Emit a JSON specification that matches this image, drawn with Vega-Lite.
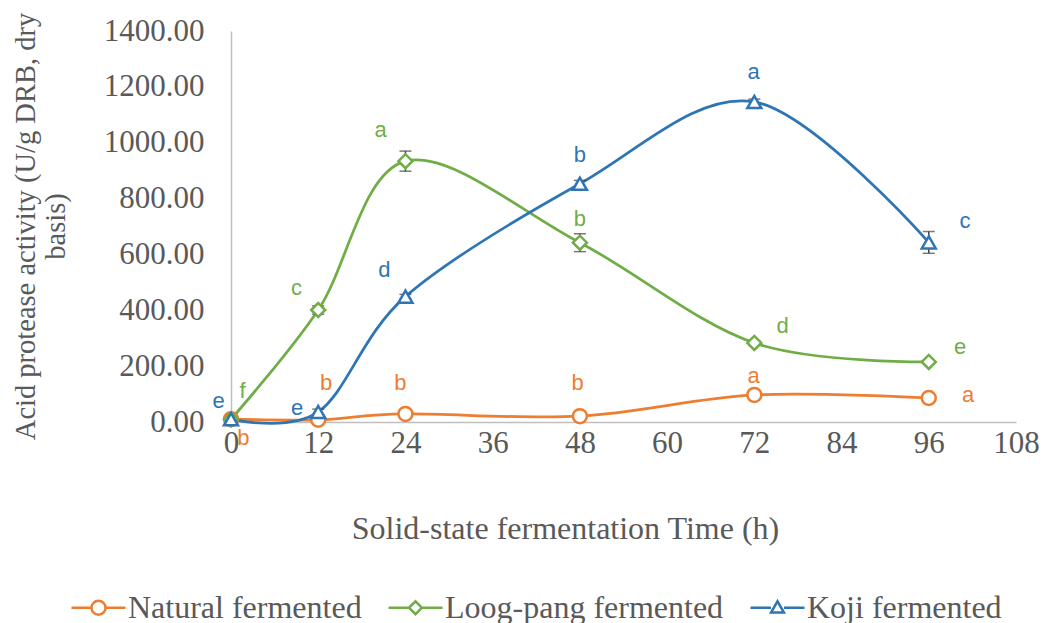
{
  "$schema": "https://vega.github.io/schema/vega-lite/v6.json",
  "width": 785,
  "height": 391,
  "autosize": {"type": "none"},
  "padding": {"left": 231, "top": 31, "right": 28, "bottom": 201},
  "background": "white",
  "config": {
    "view": {"stroke": null},
    "style": {"guide-title": {"lineBreak": "\n"}},
    "axis": {"grid": false, "ticks": false, "tickSize": 0, "domainColor": "#BFBFBF", "domainWidth": 1.5, "labelFlush": false,
      "labelFont": "Liberation Serif", "labelFontSize": 31, "labelColor": "#595959",
      "titleFont": "Liberation Serif", "titleFontSize": 32, "titleColor": "#595959", "titleFontWeight": "normal", "titleLimit": 600},
    "legend": {"labelFont": "Liberation Serif", "labelFontSize": 32, "labelColor": "#595959", "labelLimit": 500}
  },
  "datasets": {
    "pts": [
      {"series": "Natural fermented", "time": 0, "activity": 10, "err": 3},
      {"series": "Natural fermented", "time": 12, "activity": 8, "err": 3},
      {"series": "Natural fermented", "time": 24, "activity": 29, "err": 15},
      {"series": "Natural fermented", "time": 48, "activity": 21, "err": 3},
      {"series": "Natural fermented", "time": 72, "activity": 97, "err": 4},
      {"series": "Natural fermented", "time": 96, "activity": 86, "err": 4},
      {"series": "Loog-pang fermented", "time": 0, "activity": 10, "err": 3},
      {"series": "Loog-pang fermented", "time": 12, "activity": 401, "err": 15},
      {"series": "Loog-pang fermented", "time": 24, "activity": 934, "err": 36},
      {"series": "Loog-pang fermented", "time": 48, "activity": 642, "err": 32},
      {"series": "Loog-pang fermented", "time": 72, "activity": 283, "err": 8},
      {"series": "Loog-pang fermented", "time": 96, "activity": 215, "err": 4},
      {"series": "Koji fermented", "time": 0, "activity": 10, "err": 3},
      {"series": "Koji fermented", "time": 12, "activity": 36, "err": 10},
      {"series": "Koji fermented", "time": 24, "activity": 449, "err": 8},
      {"series": "Koji fermented", "time": 48, "activity": 853, "err": 12},
      {"series": "Koji fermented", "time": 72, "activity": 1146, "err": 10},
      {"series": "Koji fermented", "time": 96, "activity": 643, "err": 39}
    ],
    "letters": [
      {"series": "Natural fermented", "letter": "b", "lx": 1.7, "ly": -57},
      {"series": "Natural fermented", "letter": "b", "lx": 13.1, "ly": 140},
      {"series": "Natural fermented", "letter": "b", "lx": 23.3, "ly": 140},
      {"series": "Natural fermented", "letter": "b", "lx": 47.7, "ly": 140},
      {"series": "Natural fermented", "letter": "a", "lx": 71.9, "ly": 165},
      {"series": "Natural fermented", "letter": "a", "lx": 101.4, "ly": 97},
      {"series": "Loog-pang fermented", "letter": "f", "lx": 1.6, "ly": 110},
      {"series": "Loog-pang fermented", "letter": "c", "lx": 9.0, "ly": 480},
      {"series": "Loog-pang fermented", "letter": "a", "lx": 20.6, "ly": 1045},
      {"series": "Loog-pang fermented", "letter": "b", "lx": 48.0, "ly": 727},
      {"series": "Loog-pang fermented", "letter": "d", "lx": 75.9, "ly": 344},
      {"series": "Loog-pang fermented", "letter": "e", "lx": 100.3, "ly": 268},
      {"series": "Koji fermented", "letter": "e", "lx": -1.7, "ly": 75},
      {"series": "Koji fermented", "letter": "e", "lx": 9.1, "ly": 50},
      {"series": "Koji fermented", "letter": "d", "lx": 21.1, "ly": 544},
      {"series": "Koji fermented", "letter": "b", "lx": 48.0, "ly": 956},
      {"series": "Koji fermented", "letter": "a", "lx": 71.9, "ly": 1253},
      {"series": "Koji fermented", "letter": "c", "lx": 101.0, "ly": 720}
    ]
  },
  "layer": [
    {
      "data": {"name": "pts"},
      "mark": {"type": "line", "interpolate": "cardinal", "strokeWidth": 2.75},
      "encoding": {
        "x": {"field": "time", "type": "quantitative",
          "scale": {"domain": [0, 108], "nice": false, "zero": false},
          "axis": {"title": "Solid-state fermentation Time (h)", "values": [0, 12, 24, 36, 48, 60, 72, 84, 96, 108], "labelPadding": 6,
            "titleX": 334, "titleY": 106, "titleBaseline": "middle", "titleAlign": "center", "titleAnchor": null}},
        "y": {"field": "activity", "type": "quantitative",
          "scale": {"domain": [0, 1400], "nice": false},
          "axis": {"title": "Acid protease activity (U/g DRB, dry\nbasis)", "values": [0, 200, 400, 600, 800, 1000, 1200, 1400], "format": ".2f", "labelPadding": 27,
            "titleLineHeight": 30, "titleFontSize": 28.5,
            "titleX": -206, "titleY": 195, "titleBaseline": "middle", "titleAlign": "center", "titleAngle": -90, "titleAnchor": null}},
        "color": {"field": "series", "type": "nominal",
          "scale": {"domain": ["Natural fermented", "Loog-pang fermented", "Koji fermented"], "range": ["#ED7D31", "#70AD47", "#2E75B6"]},
          "legend": {"orient": "none", "legendX": -161, "legendY": 548, "direction": "horizontal", "title": null,
            "symbolSize": 2916, "symbolStrokeWidth": 2.5, "symbolFillColor": "white",
            "labelOffset": 1, "columnPadding": 21, "padding": 0,
            "encode": {"symbols": {"update": {
              "shape": {"signal": "datum.value === 'Natural fermented' ? 'M-1,0H-0.26M0.26,0H1M-0.26,0A0.26,0.26 0 1,1 0.26,0A0.26,0.26 0 1,1 -0.26,0Z' : datum.value === 'Loog-pang fermented' ? 'M-1,0H-0.24M0.24,0H1M-0.24,0L0,-0.24L0.24,0L0,0.24Z' : 'M-1,0H-0.24M0.24,0H1M-0.24,0.18L0,-0.24L0.24,0.18Z'"},
              "fill": {"value": "white"}, "fillOpacity": {"value": 1}}}}}}
      }
    },
    {
      "data": {"name": "pts"},
      "mark": {"type": "errorbar", "color": "#404040", "thickness": 1.5, "ticks": {"size": 12, "thickness": 1.5, "color": "#404040"}},
      "encoding": {
        "x": {"field": "time", "type": "quantitative", "axis": {"title": "Solid-state fermentation Time (h)"}},
        "y": {"field": "activity", "type": "quantitative", "axis": {"title": "Acid protease activity (U/g DRB, dry\nbasis)"}},
        "yError": {"field": "err"}
      }
    },
    {
      "data": {"name": "pts"},
      "transform": [{"filter": "datum.series === 'Natural fermented'"}],
      "mark": {"type": "point", "shape": "circle", "filled": false, "fill": "white", "fillOpacity": 1, "stroke": "#ED7D31", "strokeWidth": 2.5, "opacity": 1, "size": 196},
      "encoding": {
        "x": {"field": "time", "type": "quantitative", "axis": {"title": "Solid-state fermentation Time (h)"}},
        "y": {"field": "activity", "type": "quantitative", "axis": {"title": "Acid protease activity (U/g DRB, dry\nbasis)"}}
      }
    },
    {
      "data": {"name": "pts"},
      "transform": [{"filter": "datum.series === 'Loog-pang fermented'"}],
      "mark": {"type": "point", "shape": "diamond", "filled": false, "fill": "white", "fillOpacity": 1, "stroke": "#70AD47", "strokeWidth": 2.5, "opacity": 1, "size": 196},
      "encoding": {
        "x": {"field": "time", "type": "quantitative", "axis": {"title": "Solid-state fermentation Time (h)"}},
        "y": {"field": "activity", "type": "quantitative", "axis": {"title": "Acid protease activity (U/g DRB, dry\nbasis)"}}
      }
    },
    {
      "data": {"name": "pts"},
      "transform": [{"filter": "datum.series === 'Koji fermented'"}],
      "mark": {"type": "point", "shape": "triangle-up", "filled": false, "fill": "white", "fillOpacity": 1, "stroke": "#2E75B6", "strokeWidth": 2.5, "opacity": 1, "size": 196},
      "encoding": {
        "x": {"field": "time", "type": "quantitative", "axis": {"title": "Solid-state fermentation Time (h)"}},
        "y": {"field": "activity", "type": "quantitative", "axis": {"title": "Acid protease activity (U/g DRB, dry\nbasis)"}}
      }
    },
    {
      "data": {"name": "letters"},
      "transform": [{"filter": "datum.series === 'Natural fermented'"}],
      "mark": {"type": "text", "font": "Liberation Sans", "fontSize": 22, "align": "center", "baseline": "middle", "color": "#ED7D31"},
      "encoding": {
        "x": {"field": "lx", "type": "quantitative", "axis": {"title": "Solid-state fermentation Time (h)"}},
        "y": {"field": "ly", "type": "quantitative", "axis": {"title": "Acid protease activity (U/g DRB, dry\nbasis)"}},
        "text": {"field": "letter"}
      }
    },
    {
      "data": {"name": "letters"},
      "transform": [{"filter": "datum.series === 'Loog-pang fermented'"}],
      "mark": {"type": "text", "font": "Liberation Sans", "fontSize": 22, "align": "center", "baseline": "middle", "color": "#70AD47"},
      "encoding": {
        "x": {"field": "lx", "type": "quantitative", "axis": {"title": "Solid-state fermentation Time (h)"}},
        "y": {"field": "ly", "type": "quantitative", "axis": {"title": "Acid protease activity (U/g DRB, dry\nbasis)"}},
        "text": {"field": "letter"}
      }
    },
    {
      "data": {"name": "letters"},
      "transform": [{"filter": "datum.series === 'Koji fermented'"}],
      "mark": {"type": "text", "font": "Liberation Sans", "fontSize": 22, "align": "center", "baseline": "middle", "color": "#2E75B6"},
      "encoding": {
        "x": {"field": "lx", "type": "quantitative", "axis": {"title": "Solid-state fermentation Time (h)"}},
        "y": {"field": "ly", "type": "quantitative", "axis": {"title": "Acid protease activity (U/g DRB, dry\nbasis)"}},
        "text": {"field": "letter"}
      }
    }
  ]
}
